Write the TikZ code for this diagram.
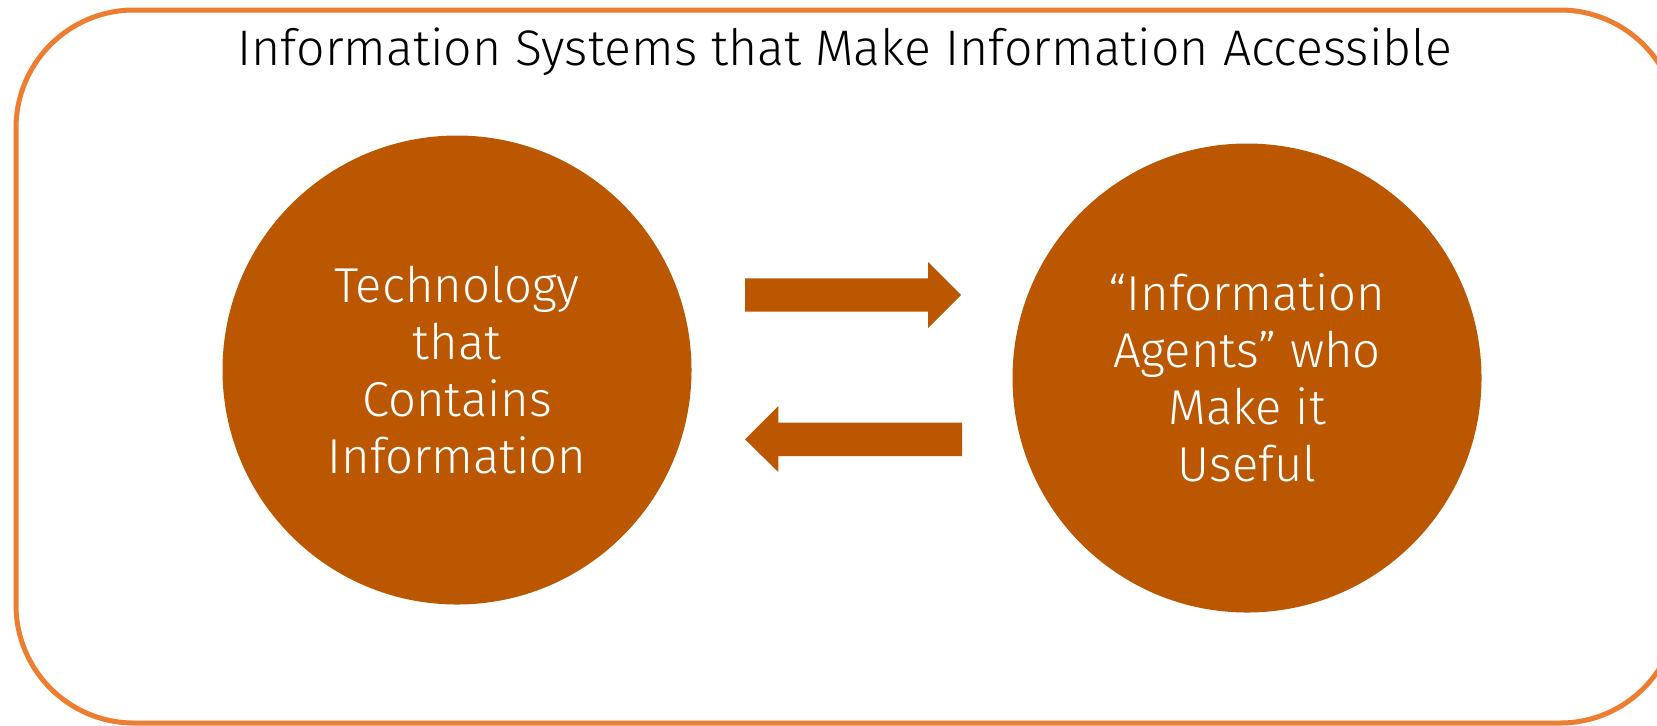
\documentclass[tikz,border=0pt]{standalone}
\usepackage{fontspec}
\setmainfont{Fira Sans}[UprightFont=* Light]
\usetikzlibrary{positioning}
\definecolor{boxorange}{RGB}{237,125,49}
\definecolor{discbrown}{RGB}{186,87,0}

\begin{document}
\begin{tikzpicture}[x=0.5pt,y=-0.5pt,
    disc/.style={circle,fill=discbrown,minimum size=234.5pt,inner sep=0pt,
      text=white,align=center,font=\fontsize{24.5}{28.5}\selectfont},
    blockarrow/.style={fill=discbrown}]
  \useasboundingbox (0,0) rectangle (1657,725);
  \begin{scope}
    \clip (0,0) rectangle (1657,725);
    \draw[boxorange,line width=2.5pt,rounded corners=59pt] (16,10) rectangle (1678,723);
  \end{scope}
  \node[font=\fontsize{25}{28}\selectfont] (title) at (845,52) {Information Systems that Make Information Accessible};
  \node[disc] (tech) at (457,370) {Technology\\that\\Contains\\Information};
  \node[disc] (agents) at (1247,378) {“Information\\Agents” who\\Make it\\Useful};
  % block arrows between the discs
  \fill[blockarrow] (745,278.3) -- (928,278.3) -- (928,262) -- (961,295)
     -- (928,328) -- (928,311.7) -- (745,311.7) -- cycle;
  \fill[blockarrow] (962,422.7) -- (778.3,422.7) -- (778.3,406) -- (745,439.3)
     -- (778.3,472) -- (778.3,456) -- (962,456) -- cycle;
\end{tikzpicture}
\end{document}
